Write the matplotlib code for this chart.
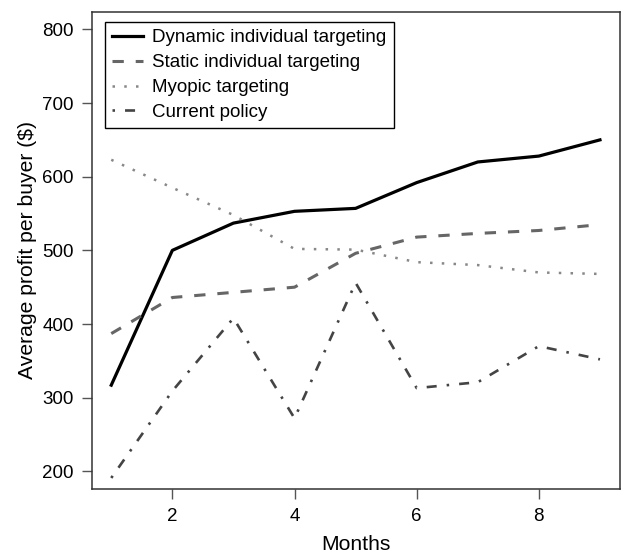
import matplotlib
matplotlib.use("Agg")
import matplotlib.pyplot as plt

plt.rcParams['font.family'] = ['Liberation Sans', 'DejaVu Sans']

# data
months = [1, 2, 3, 4, 5, 6, 7, 8, 9]
dynamic = [317, 500, 537, 553, 557, 592, 620, 628, 650]
static = [387, 436, 443, 450, 496, 518, 523, 527, 535]
myopic = [623, 585, 548, 502, 501, 484, 480, 470, 468]
current = [191, 309, 408, 272, 456, 313, 321, 370, 352]

labels = ["Dynamic individual targeting", "Static individual targeting",
          "Myopic targeting", "Current policy"]

fig = plt.figure(figsize=(6.23, 5.55), dpi=100)
ax = fig.add_axes([0.1472, 0.1189, 0.8472, 0.86])

ax.plot(months, dynamic, color="black", linewidth=2.3, label=labels[0])
ax.plot(months, static, color="#666666", linewidth=2.2,
        dashes=(3.7, 3.9), label=labels[1])
ax.plot(months, myopic, color="#888888", linewidth=1.8,
        dashes=(1.0, 3.7), label=labels[2])
ax.plot(months, current, color="#444444", linewidth=1.9,
        dashes=(0.95, 3.8, 3.8, 3.8), label=labels[3])

ax.set_xlim(0.68, 9.32)
ax.set_ylim(176, 824)
ax.set_xticks([2, 4, 6, 8])
ax.set_yticks([200, 300, 400, 500, 600, 700, 800])
ax.tick_params(axis="both", direction="out", length=7, width=1,
               color="#555555", labelsize=13.5, pad=6)
ax.tick_params(axis="x", pad=7)

for s in ax.spines.values():
    s.set_color("#333333")
    s.set_linewidth(1.1)

ax.set_xlabel("Months", fontsize=15.2, labelpad=7)
ax.set_ylabel("Average profit per buyer ($)", fontsize=15.2, labelpad=4)

leg = ax.legend(loc="upper left", bbox_to_anchor=(0.0252, 0.978),
                borderaxespad=0, fancybox=False, fontsize=13.5,
                handlelength=1.65, handletextpad=0.5, labelspacing=0.41,
                borderpad=0.38)
leg.get_frame().set_edgecolor("black")
leg.get_frame().set_linewidth(1.0)
leg.get_frame().set_alpha(1)

fig.savefig("out.png", dpi=100)
